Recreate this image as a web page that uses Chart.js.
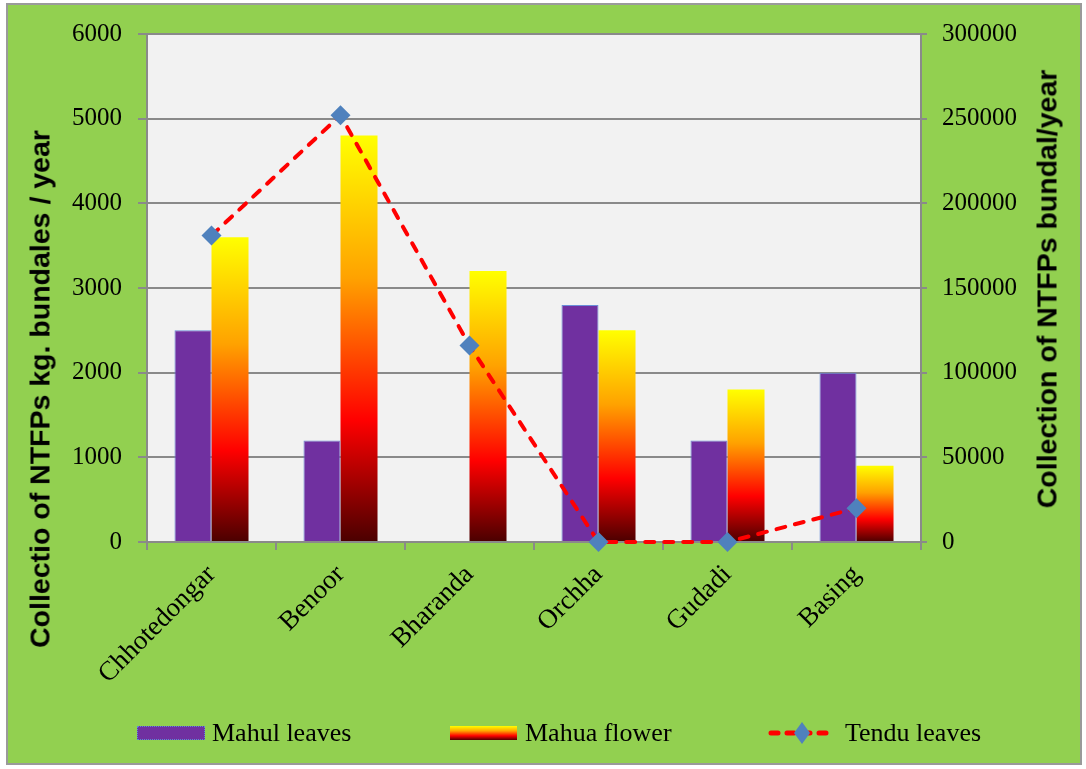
<!DOCTYPE html>
<html>
<head>
<meta charset="utf-8">
<script src="https://cdn.jsdelivr.net/npm/chart.js@4.4.0/dist/chart.umd.min.js"></script>
<style>
  html, body { margin: 0; padding: 0; background: #ffffff; width: 1086px; height: 769px; overflow: hidden; }
  #frame { position: absolute; left: 6px; top: 3px; width: 1076px; height: 762px; background: #92D050; border: 2px solid #9a9a9a; box-sizing: border-box; }
  #wrap { position: absolute; left: 0; top: 0; width: 1086px; height: 769px; }
  .ytitle { position: absolute; font-family: "Liberation Sans", Arial, sans-serif; font-weight: bold; font-size: 28.5px; color: #000; white-space: nowrap; transform: translate(-50%, -50%) rotate(-90deg); }
  .leg { position: absolute; font-family: "Liberation Serif", "Times New Roman", serif; font-size: 26px; color: #000; white-space: nowrap; line-height: 1; }
  .sw { position: absolute; box-sizing: border-box; }
</style>
</head>
<body>
<div id="frame"></div>
<div id="wrap"><canvas id="c" width="1086" height="769"></canvas></div>
<div class="ytitle" id="lt" style="left:40px; top:389px;">Collectio of NTFPs kg. bundales / year</div>
<div class="ytitle" id="rt" style="left:1047px; top:289px;">Collection of NTFPs bundal/year</div>

<div class="sw" style="left:137px; top:726px; width:68px; height:14px; background:#7030A0; border:1px dotted #5B8BD6;"></div>
<div class="leg" style="left:212px; top:720px;">Mahul leaves</div>
<div class="sw" style="left:450px; top:726px; width:67px; height:14px; background:linear-gradient(#FFFF00 0%, #FFA500 35%, #FF0000 70%, #4F0000 100%);"></div>
<div class="leg" style="left:525px; top:720px;">Mahua flower</div>
<canvas id="lineSw" width="70" height="24" style="position:absolute; left:767px; top:721px;"></canvas>
<div class="leg" style="left:845px; top:720px;">Tendu leaves</div>

<script>
const categories = ["Chhotedongar", "Benoor", "Bharanda", "Orchha", "Gudadi", "Basing"];
const mahulLeaves = [2500, 1200, 0, 2800, 1200, 2000];
const mahuaFlower = [3600, 4800, 3200, 2500, 1800, 900];
const tenduLeaves = [181000, 252000, 116000, 0, 0, 20000];
const leftTicks = [0, 1000, 2000, 3000, 4000, 5000, 6000];
const rightTicks = [0, 50000, 100000, 150000, 200000, 250000, 300000];

// legend line swatch
(function(){
  const c = document.getElementById('lineSw').getContext('2d');
  c.strokeStyle = '#FF0000'; c.lineWidth = 5; c.lineCap = 'round';
  c.setLineDash([7, 9]);
  c.beginPath(); c.moveTo(4, 12); c.lineTo(66, 12); c.stroke();
  c.setLineDash([]);
  c.fillStyle = '#4F81BD';
  c.beginPath(); c.moveTo(35, 1); c.lineTo(43, 12); c.lineTo(35, 23); c.lineTo(27, 12); c.closePath(); c.fill();
})();

const serif = "'Liberation Serif', 'Times New Roman', serif";

const plotBg = {
  id: 'plotBg',
  beforeDraw(chart) {
    const {ctx, chartArea: a} = chart;
    ctx.save();
    ctx.fillStyle = '#F2F2F2';
    ctx.fillRect(a.left, a.top, a.right - a.left, a.bottom - a.top);
    ctx.restore();
  }
};

function mahuaGradient(context) {
  const chart = context.chart;
  if (!chart.chartArea || context.type !== 'data' || !chart.scales.y) return '#FFA500';
  const ys = chart.scales.y;
  const top = ys.getPixelForValue(context.raw);
  const bottom = ys.getPixelForValue(0);
  if (!isFinite(top) || bottom - top < 1) return '#4F0000';
  const g = chart.ctx.createLinearGradient(0, top, 0, bottom);
  g.addColorStop(0, '#FFFF00');
  g.addColorStop(0.35, '#FFA200');
  g.addColorStop(0.70, '#FF0000');
  g.addColorStop(1, '#4A0000');
  return g;
}

new Chart(document.getElementById('c'), {
  data: {
    labels: categories,
    datasets: [
      {
        type: 'bar', label: 'Mahul leaves', data: mahulLeaves, yAxisID: 'y', order: 1,
        backgroundColor: '#7030A0', borderColor: '#6A8ED8', borderWidth: 1,
        categoryPercentage: 0.574, barPercentage: 1
      },
      {
        type: 'bar', label: 'Mahua flower', data: mahuaFlower, yAxisID: 'y', order: 2,
        backgroundColor: mahuaGradient, borderWidth: 0,
        categoryPercentage: 0.574, barPercentage: 1
      },
      {
        type: 'line', label: 'Tendu leaves', data: tenduLeaves, yAxisID: 'y1', order: 0,
        borderColor: '#FF0000', borderWidth: 4, borderDash: [9, 10], borderCapStyle: 'round',
        tension: 0, fill: false, clip: false,
        pointStyle: 'rectRot', pointRadius: 10, pointBackgroundColor: '#4F81BD', pointBorderWidth: 0
      }
    ]
  },
  options: {
    responsive: false,
    animation: false,
    layout: { padding: { top: 34, left: 0, right: 0, bottom: 0 } },
    plugins: { legend: { display: false }, tooltip: { enabled: false } },
    scales: {
      x: {
        offset: true,
        afterFit(s) { s.height = 227; },
        grid: { display: true, drawOnChartArea: false, offset: true, tickLength: 8, color: '#8a8a8a', lineWidth: 2 },
        border: { display: true, color: '#8a8a8a', width: 2 },
        ticks: { autoSkip: false, minRotation: 45, maxRotation: 45, padding: 9, color: '#000', font: { family: serif, size: 27 } }
      },
      y: {
        position: 'left', min: 0, max: 6000,
        afterFit(s) { s.width = 147; },
        afterBuildTicks(s) { s.ticks = leftTicks.map(v => ({ value: v })); },
        grid: { color: '#8a8a8a', lineWidth: 2, tickLength: 9 },
        border: { display: true, color: '#8a8a8a', width: 2 },
        ticks: { padding: 16, color: '#000', font: { family: serif, size: 25 }, callback: v => String(v) }
      },
      y1: {
        position: 'right', min: 0, max: 300000,
        afterFit(s) { s.width = 165; },
        afterBuildTicks(s) { s.ticks = rightTicks.map(v => ({ value: v })); },
        grid: { drawOnChartArea: false, color: '#8a8a8a', lineWidth: 2, tickLength: 6 },
        border: { display: true, color: '#8a8a8a', width: 2 },
        ticks: { padding: 15, color: '#000', font: { family: serif, size: 25 }, callback: v => String(v) }
      }
    }
  },
  plugins: [plotBg]
});
</script>
</body>
</html>
